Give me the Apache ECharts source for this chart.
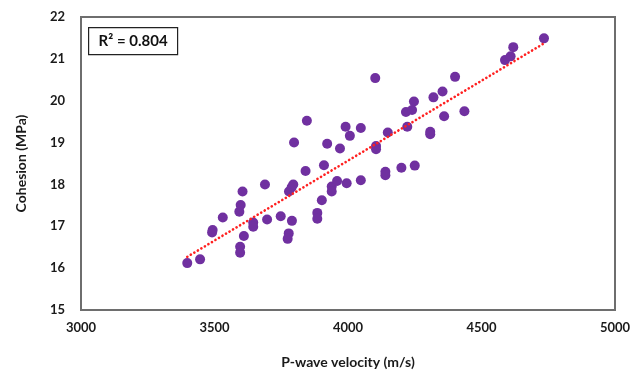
<!DOCTYPE html>
<html><head><meta charset="utf-8">
<script src="https://cdn.jsdelivr.net/npm/echarts@6/dist/echarts.min.js"></script>
<style>html,body{margin:0;padding:0;background:#fff}#c{width:644px;height:375px}</style>
</head><body><div id="c"></div>
<script>
var velocity = [3398,3446,3493,3491,3531,3593,3598,3605,3610,3596,3596,3645,3645,3689,3697,3748,3790,3778,3774,3779,3789,3795,3798,3846,3841,3885,3885,3902,3910,3922,3939,3939,3959,3970,3991,3995,4007,4048,4048,4102,4105,4105,4149,4140,4140,4200,4217,4222,4240,4247,4250,4308,4308,4320,4354,4360,4401,4436,4588,4609,4619,4734];
var cohesion = [16.12,16.21,16.91,16.85,17.21,17.35,17.51,17.83,16.77,16.51,16.37,17.09,16.99,18.00,17.16,17.24,17.13,16.83,16.70,17.83,17.93,18.00,19.00,19.52,18.32,17.32,17.18,17.62,18.46,18.97,17.95,17.83,18.08,18.86,19.38,18.03,19.16,19.35,18.10,20.54,18.92,18.84,19.24,18.30,18.22,18.40,19.73,19.38,19.78,19.98,18.45,19.26,19.20,20.08,20.22,19.63,20.57,19.75,20.97,21.06,21.28,21.49];
var trendX = [3398, 4734];
var trendY = [16.27, 21.37];
var xTicks = [3000,3500,4000,4500,5000];
var yTicks = [15,16,17,18,19,20,21,22];
var r2Text = 'R² = 0.804';

var pts = velocity.map(function(v,i){return [v, cohesion[i]];});
var trend = trendX.map(function(v,i){return [v, trendY[i]];});
var font = 'Lato, "Open Sans", sans-serif';
var chart = echarts.init(document.getElementById('c'), null, {renderer:'canvas'});
chart.setOption({
  animation:false,
  grid:{left:81,right:29,top:17,bottom:65,show:true,borderColor:'#6e6e6e',borderWidth:2,backgroundColor:'#fff'},
  xAxis:{type:'value',min:xTicks[0],max:xTicks[xTicks.length-1],interval:500,
    name:'P-wave velocity (m/s)',nameLocation:'middle',nameGap:45,
    nameTextStyle:{fontFamily:font,fontWeight:'bold',fontSize:14,color:'#1a1a1a'},
    axisLine:{show:false},axisTick:{show:false},splitLine:{show:false},
    axisLabel:{margin:11,fontFamily:font,fontWeight:'bold',fontSize:13,color:'#1a1a1a',formatter:function(v){return String(v);}}},
  yAxis:{type:'value',min:yTicks[0],max:yTicks[yTicks.length-1],interval:1,
    name:'Cohesion (MPa)',nameLocation:'middle',nameGap:53,nameRotate:90,
    nameTextStyle:{fontFamily:font,fontWeight:'bold',fontSize:14,color:'#1a1a1a'},
    axisLine:{show:false},axisTick:{show:false},splitLine:{show:false},
    axisLabel:{margin:16,fontFamily:font,fontWeight:'bold',fontSize:13,color:'#1a1a1a'}},
  graphic:[{type:'group',left:88,top:27,children:[
    {type:'rect',shape:{x:0,y:0,width:89,height:27},style:{fill:'#fff',stroke:'#222',lineWidth:1.2}},
    {type:'text',x:44.5,y:14,style:{text:r2Text,fontFamily:font,fontWeight:'bold',fontSize:15,fill:'#111',align:'center',verticalAlign:'middle'}}
  ]}],
  series:[
    {type:'line',data:trend,symbol:'none',z:3,
     lineStyle:{color:'#ff2020',width:2.6,type:[0.1,4],cap:'round'}},
    {type:'scatter',data:pts,symbol:'circle',symbolSize:10,z:2,
     itemStyle:{color:'#7030A0',opacity:1}}
  ]
});
</script></body></html>
